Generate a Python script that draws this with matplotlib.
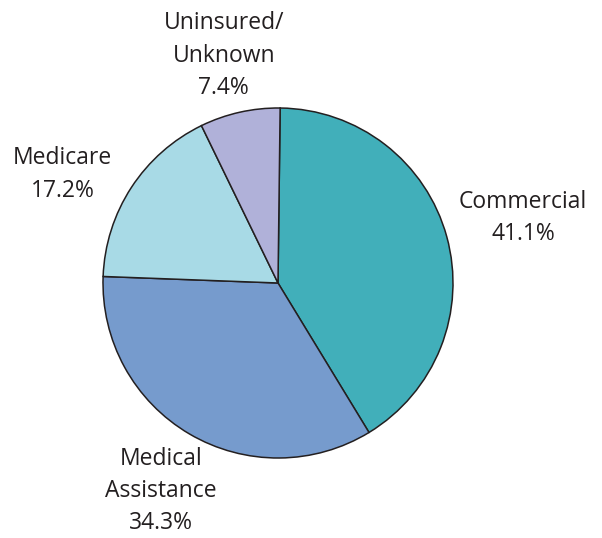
import matplotlib
matplotlib.use('Agg')
import matplotlib.pyplot as plt

# payer mix shares, clockwise from the top
payers = ['Commercial', 'Medical\nAssistance', 'Medicare', 'Uninsured/\nUnknown']
shares = [41.1, 34.3, 17.2, 7.4]
colors = ['#41afba', '#769bcd', '#a8dae6', '#b0b1d9']

# label block centres, in pie-radius units
label_xy = [(1.40, 0.37), (-0.67, -1.19), (-1.23, 0.62), (-0.31, 1.30)]

plt.rcParams['font.family'] = ['Open Sans', 'DejaVu Sans']
text_color = '#231f20'

fig = plt.figure(figsize=(6.02, 5.38), dpi=100)
ax = fig.add_axes([0, 0, 1, 1])

ax.pie(shares, colors=colors, startangle=89.3, counterclock=False,
       radius=1.0, wedgeprops=dict(edgecolor=text_color, linewidth=1.1))

for name, val, (x, y) in zip(payers, shares, label_xy):
    ax.text(x, y, f'{name}\n{val:.1f}%', ha='center', va='center',
            fontsize=16.5, color=text_color, linespacing=1.45)

ax.set_xlim(-278 / 175, (602 - 278) / 175)
ax.set_ylim((283 - 538) / 175, 283 / 175)
ax.set_aspect('auto')
ax.axis('off')

fig.savefig('out.png', dpi=100)
